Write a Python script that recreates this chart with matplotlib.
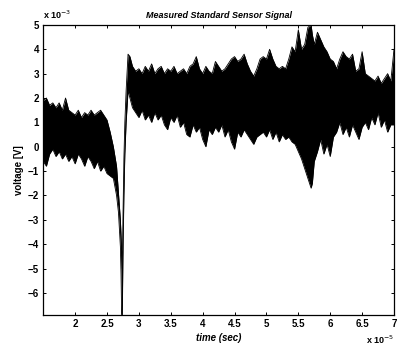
"""
Measured Standard Sensor Signal: noisy voltage trace vs. time.
The trace is drawn as the band between the upper and lower noise
envelopes read off the reference picture.
"""

import matplotlib
matplotlib.use("Agg")
import matplotlib.pyplot as plt

#####################################
# Data (time in 1e-5 s, voltage in 1e-3 V)
#####################################

time_pts = [
    1.50, 1.55, 1.60, 1.65, 1.70, 1.75, 1.80, 1.85, 1.90, 1.95,
    2.00, 2.05, 2.10, 2.15, 2.20, 2.25, 2.30, 2.35, 2.40, 2.45,
    2.50, 2.55, 2.60, 2.65, 2.68, 2.71, 2.72, 2.73, 2.74, 2.75,
    2.765, 2.78, 2.80, 2.83, 2.86,
    2.90, 2.95, 3.00, 3.05, 3.10, 3.15, 3.20, 3.25, 3.30, 3.35,
    3.40, 3.45, 3.50, 3.55, 3.60, 3.65, 3.70, 3.75, 3.80, 3.85,
    3.90, 3.95, 4.00, 4.05, 4.10, 4.15, 4.20, 4.25, 4.30, 4.35,
    4.40, 4.45, 4.50, 4.55, 4.60, 4.65, 4.70, 4.75, 4.80, 4.85,
    4.90, 4.95, 5.00, 5.05, 5.10, 5.15, 5.20, 5.25, 5.30, 5.35,
    5.40, 5.45, 5.50, 5.55, 5.60, 5.65, 5.70, 5.72, 5.75, 5.80,
    5.85, 5.90, 5.95, 6.00, 6.05, 6.10, 6.15, 6.20, 6.25, 6.30,
    6.35, 6.40, 6.45, 6.50, 6.55, 6.60, 6.65, 6.70, 6.75, 6.80,
    6.85, 6.90, 6.95, 7.00,
]

upper_mv = [
    1.9, 2.0, 1.7, 1.8, 1.6, 1.8, 1.5, 2.0, 1.5, 1.4,
    1.3, 1.5, 1.2, 1.4, 1.3, 1.5, 1.3, 1.4, 1.5, 1.3,
    1.1, 0.6, 0.0, -0.8, -1.9, -3.0, -3.6, -4.3, -5.0, -3.0,
    -0.5, 1.0, 2.3, 3.8, 3.7,
    3.3, 3.1, 3.2, 3.0, 3.3, 3.1, 3.4, 3.0, 3.2, 3.3,
    3.0, 3.2, 3.1, 3.3, 3.0, 3.1, 3.2, 3.0, 3.3, 3.4,
    3.7, 3.2, 3.0, 3.3, 3.1, 3.0, 3.5, 3.3, 3.1, 3.2,
    3.4, 3.6, 3.7, 3.5, 3.6, 3.8, 3.4, 3.1, 2.9, 3.2,
    3.6, 3.7, 3.6, 4.0, 3.6, 3.3, 3.2, 3.3, 3.2, 3.6,
    4.1, 3.9, 4.8, 4.0, 4.2, 4.9, 5.0, 4.6, 4.2, 4.7,
    4.4, 4.1, 3.9, 3.6, 3.5, 3.2, 3.6, 3.9, 3.7, 3.6,
    3.8, 3.1, 3.2, 3.9, 3.0, 2.9, 2.8, 2.7, 2.9, 2.6,
    2.8, 3.0, 2.7, 4.0,
]

lower_mv = [
    -0.6, -0.8, -0.3, -0.1, -0.4, -0.2, -0.5, -0.3, -0.6, -0.4,
    -0.7, -0.3, -0.5, -0.8, -0.4, -0.6, -0.9, -0.6, -1.0, -0.8,
    -1.1, -1.2, -1.3, -2.0, -2.7, -4.1, -5.2, -6.9, -6.9, -4.5,
    -2.0, -0.3, 1.0, 2.3, 2.0,
    1.6, 1.4, 1.2, 1.5, 1.1, 1.3, 1.0, 1.4, 1.1, 1.3,
    0.9, 0.7, 1.2, 1.0, 1.3, 0.8, 1.0, 0.5, 0.4, 0.9,
    0.6, 0.8, 0.3, 0.0, 0.7, 0.5, 0.8, 0.6, 0.9, 0.4,
    0.7, 0.2, -0.1, 0.6, 0.4, 0.7, 0.5, 0.3, 0.1, 0.4,
    0.5, 0.6, 0.4, 0.7, 0.3, 0.6, 0.2, 0.5, 0.3, 0.4,
    0.2, 0.1, -0.2, -0.5, -0.9, -1.3, -1.7, -1.5, -0.6, -0.2,
    0.3, -0.3, 0.1, -0.4, 0.4, 0.6, 1.0, 0.5, 0.8, 0.4,
    0.9, 0.6, 0.3, 0.8, 1.0, 0.7, 1.2, 0.9, 1.4, 0.8,
    1.1, 0.6, 0.9, 0.9,
]

x_ticks = [2, 2.5, 3, 3.5, 4, 4.5, 5, 5.5, 6, 6.5, 7]
x_tick_labels = ["2", "2.5", "3", "3.5", "4", "4.5", "5", "5.5", "6", "6.5", "7"]
y_ticks = [-6, -5, -4, -3, -2, -1, 0, 1, 2, 3, 4, 5]

#####################################
# Plot
#####################################

plt.rcParams["font.family"] = ["Liberation Sans", "DejaVu Sans"]

fig = plt.figure(figsize=(4.0, 3.51), dpi=100)
ax = fig.add_axes([0.108, 0.103, 0.877, 0.826])

ax.fill_between(time_pts, lower_mv, upper_mv, color="black", linewidth=0)
ax.plot(time_pts, upper_mv, color="black", linewidth=0.6)
ax.plot(time_pts, lower_mv, color="black", linewidth=0.6)

ax.set_xlim(1.5, 7.0)
ax.set_ylim(-6.9, 5.0)
ax.set_xticks(x_ticks)
ax.set_xticklabels(x_tick_labels)
ax.set_yticks(y_ticks)

ax.tick_params(direction="in", length=2.5, width=0.7, top=True, right=True,
               labelsize=7, pad=3)
for lab in ax.get_xticklabels() + ax.get_yticklabels():
    lab.set_fontweight("bold")
for sp in ax.spines.values():
    sp.set_linewidth(0.9)

ax.set_title("Measured Standard Sensor Signal", fontsize=6.5,
             fontweight="bold", style="italic", pad=5)
ax.set_xlabel("time (sec)", fontsize=7, fontweight="bold", style="italic",
              labelpad=3)
ax.set_ylabel("voltage [V]", fontsize=7, fontweight="bold", labelpad=3)

# axis multipliers as MATLAB draws them
ax.text(0.0, 1.012, r"x 10$^{-3}$", transform=ax.transAxes, fontsize=6.5,
        fontweight="bold", ha="left", va="bottom")
ax.text(1.0, -0.085, r"x 10$^{-5}$", transform=ax.transAxes, fontsize=6.5,
        fontweight="bold", ha="right", va="center")

fig.savefig("out.png", dpi=100)
